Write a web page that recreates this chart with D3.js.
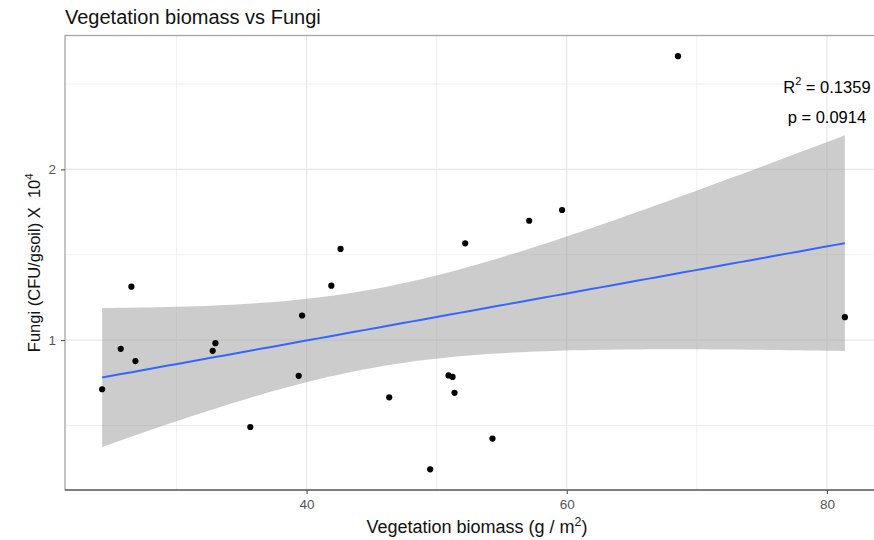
<!DOCTYPE html>
<html>
<head>
<meta charset="utf-8">
<script src="https://cdn.jsdelivr.net/npm/d3@7"></script>
<style>
  html, body { margin: 0; padding: 0; background: #fff; }
  svg { display: block; font-family: "Liberation Sans", Arial, sans-serif; }
</style>
</head>
<body>
<svg id="chart" width="874" height="540"></svg>
<script>
// Vegetation biomass (g / m^2) per plot
const biomass = [24.28, 25.71, 26.53, 26.84, 32.78, 32.99, 35.67, 39.39, 39.65, 41.90, 42.61,
                 46.35, 49.50, 50.91, 51.22, 51.37, 52.19, 54.29, 57.11, 59.64, 68.55, 81.38];
// Fungi (CFU / g soil) x 10^4 per plot
const fungi = [0.712, 0.949, 1.313, 0.877, 0.937, 0.982, 0.491, 0.791, 1.144, 1.319, 1.534,
               0.665, 0.243, 0.793, 0.784, 0.691, 1.567, 0.423, 1.699, 1.762, 2.663, 1.134];

const xMajorTicks = [40, 60, 80];
const xMinorTicks = [30, 50, 70];
const yMajorTicks = [1, 2];
const yMinorTicks = [0.5, 1.5, 2.5];

const statLines = ["R\u00B2 = 0.1359", "p = 0.0914"];
const statAt = [{x: 80, y: 2.48}, {x: 80, y: 2.305}];

const tCrit = 2.086; // t quantile, 0.975, df = 20

const svg = d3.select("#chart");
const panel = {left: 65, top: 35.5, right: 882, bottom: 490};

// ---- linear fit with confidence band ----
const n = biomass.length;
const mx = d3.mean(biomass), my = d3.mean(fungi);
let sxx = 0, sxy = 0;
for (let i = 0; i < n; i++) { sxx += (biomass[i] - mx) ** 2; sxy += (biomass[i] - mx) * (fungi[i] - my); }
const slope = sxy / sxx, intercept = my - slope * mx;
let sse = 0;
for (let i = 0; i < n; i++) sse += (fungi[i] - (intercept + slope * biomass[i])) ** 2;
const sigma = Math.sqrt(sse / (n - 2));
const [xmin, xmax] = d3.extent(biomass);
const fit = d3.range(80).map(k => {
  const x = xmin + (xmax - xmin) * k / 79;
  const yhat = intercept + slope * x;
  const se = sigma * Math.sqrt(1 / n + (x - mx) ** 2 / sxx);
  return {x, y: yhat, lo: yhat - tCrit * se, hi: yhat + tCrit * se};
});

// ---- scales with 5% padding ----
const ex = d3.extent(biomass), ey = d3.extent(fungi.concat(fit.map(d => d.lo), fit.map(d => d.hi)));
const px = (ex[1] - ex[0]) * 0.05, py = (ey[1] - ey[0]) * 0.05;
const x = d3.scaleLinear().domain([ex[0] - px, ex[1] + px]).range([panel.left, panel.right]);
const y = d3.scaleLinear().domain([ey[0] - py, ey[1] + py]).range([panel.bottom, panel.top]);

svg.append("defs").append("clipPath").attr("id", "clip")
  .append("rect").attr("x", panel.left).attr("y", panel.top)
  .attr("width", panel.right - panel.left).attr("height", panel.bottom - panel.top);

const g = svg.append("g").attr("clip-path", "url(#clip)");

// grid
g.selectAll(".vminor").data(xMinorTicks).join("line")
  .attr("x1", d => x(d)).attr("x2", d => x(d)).attr("y1", panel.top).attr("y2", panel.bottom)
  .attr("stroke", "#ededed").attr("stroke-width", 0.9);
g.selectAll(".hminor").data(yMinorTicks).join("line")
  .attr("y1", d => y(d)).attr("y2", d => y(d)).attr("x1", panel.left).attr("x2", panel.right)
  .attr("stroke", "#ededed").attr("stroke-width", 0.9);
g.selectAll(".vmajor").data(xMajorTicks).join("line")
  .attr("x1", d => x(d)).attr("x2", d => x(d)).attr("y1", panel.top).attr("y2", panel.bottom)
  .attr("stroke", "#e8e8e8").attr("stroke-width", 1.2);
g.selectAll(".hmajor").data(yMajorTicks).join("line")
  .attr("y1", d => y(d)).attr("y2", d => y(d)).attr("x1", panel.left).attr("x2", panel.right)
  .attr("stroke", "#e8e8e8").attr("stroke-width", 1.2);

// confidence band
g.append("path").datum(fit)
  .attr("d", d3.area().x(d => x(d.x)).y0(d => y(d.lo)).y1(d => y(d.hi)))
  .attr("fill", "#999999").attr("fill-opacity", 0.5);

// fitted line
g.append("path").datum(fit)
  .attr("d", d3.line().x(d => x(d.x)).y(d => y(d.y)))
  .attr("fill", "none").attr("stroke", "#3366FF").attr("stroke-width", 2);

// points
g.selectAll(".pt").data(biomass.map((b, i) => [b, fungi[i]])).join("circle")
  .attr("cx", d => x(d[0])).attr("cy", d => y(d[1])).attr("r", 3.1).attr("fill", "#000");

// stats annotation
svg.selectAll(".stat").data(statLines).join("text")
  .attr("x", (d, i) => x(statAt[i].x)).attr("y", (d, i) => y(statAt[i].y))
  .attr("text-anchor", "middle").attr("dominant-baseline", "central")
  .attr("font-size", 16.5).attr("fill", "#000")
  .each(function(d, i) {
    const t = d3.select(this);
    if (i === 0) {
      t.append("tspan").text("R");
      t.append("tspan").attr("dy", -6).attr("font-size", 11).text("2");
      t.append("tspan").attr("dy", 6).text(" = 0.1359");
    } else t.text(d);
  });

// panel border
svg.append("rect").attr("x", panel.left).attr("y", panel.top)
  .attr("width", panel.right - panel.left).attr("height", panel.bottom - panel.top)
  .attr("fill", "none").attr("stroke", "#a6a6a6").attr("stroke-width", 1.3);
svg.append("line").attr("x1", panel.left).attr("x2", panel.right)
  .attr("y1", panel.bottom).attr("y2", panel.bottom)
  .attr("stroke", "#666").attr("stroke-width", 1.3);

// axes
const xAxis = svg.append("g").attr("transform", `translate(0,${panel.bottom})`)
  .call(d3.axisBottom(x).tickValues(xMajorTicks).tickSize(4).tickPadding(5).tickFormat(d3.format("d")));
const yAxis = svg.append("g").attr("transform", `translate(${panel.left},0)`)
  .call(d3.axisLeft(y).tickValues(yMajorTicks).tickSize(4).tickPadding(5).tickFormat(d3.format("d")));
[xAxis, yAxis].forEach(a => {
  a.select(".domain").remove();
  a.selectAll(".tick line").attr("stroke", "#555").attr("stroke-width", 1.1);
  a.selectAll(".tick text").attr("fill", "#555").attr("font-size", 13.5)
    .attr("font-family", "'Liberation Sans', Arial, sans-serif");
});

// title
svg.append("text").attr("x", 65).attr("y", 24).attr("font-size", 20).attr("fill", "#111")
  .text("Vegetation biomass vs Fungi");

// x axis title
const xt = svg.append("text").attr("x", 477).attr("y", 533)
  .attr("text-anchor", "middle").attr("font-size", 18).attr("fill", "#111");
xt.append("tspan").text("Vegetation biomass (g / m");
xt.append("tspan").attr("dy", -7).attr("font-size", 12.5).text("2");
xt.append("tspan").attr("dy", 7).text(")");

// y axis title
const yt = svg.append("text")
  .attr("transform", `translate(40,${(panel.top + panel.bottom) / 2}) rotate(-90)`)
  .attr("text-anchor", "middle").attr("font-size", 16.5).attr("fill", "#111");
yt.append("tspan").text("Fungi (CFU/gsoil) X \u00A010");
yt.append("tspan").attr("dy", -7).attr("font-size", 11.5).text("4");
</script>
</body>
</html>
